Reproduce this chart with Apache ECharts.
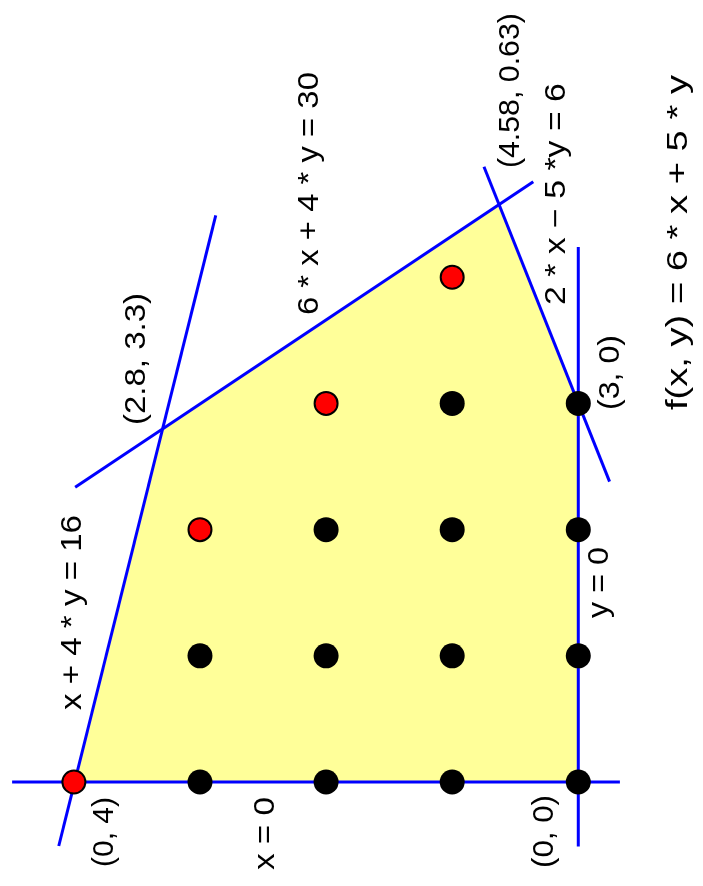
<!DOCTYPE html>
<html>
<head>
<meta charset="utf-8">
<script src="https://cdn.jsdelivr.net/npm/echarts@6/dist/echarts.min.js"></script>
<style>
html, body { margin: 0; padding: 0; background: #fff; }
#chart { width: 703px; height: 886px; }
</style>
</head>
<body>
<div id="chart"></div>
<script>
// problem coordinates: x goes up the page, y goes to the left
// feasible region corners
var regionX = [0, 3, 4.58, 2.8, 0];
var regionY = [0, 0, 0.63, 3.3, 4];

// constraint lines, two end points each
var lineX = [[0, 0], [-0.51, 4.24], [-0.507, 4.49], [2.335, 4.757], [2.38, 4.876]];
var lineY = [[4.49, -0.33], [0, 0], [4.12, 2.875], [3.99, 0.357], [-0.248, 0.748]];

// integer points inside the region
var blackX = [0, 0, 0, 0, 1, 1, 1, 1, 2, 2, 2, 3, 3];
var blackY = [0, 1, 2, 3, 0, 1, 2, 3, 0, 1, 2, 0, 1];
// best points (red)
var redX = [0, 2, 3, 4];
var redY = [4, 3, 2, 1];

// text labels (anchored at problem coords)
var labelText = ['x + 4 * y = 16', '(0, 4)', 'x = 0', '(0, 0)', 'y = 0', '(3, 0)',
  '2 * x \u2212 5 *y = 6', '(4.58, 0.63)', '6 * x + 4 * y = 30', '(2.8, 3.3)',
  'f(x, y) = 6 * x + 5 * y'];
var labelX = [1.343, -0.396, -0.408, -0.392, 1.581, 3.245, 4.659, 5.479, 4.663, 3.352, 4.275];
var labelY = [4.005, 3.755, 2.473, 0.264, -0.172, -0.263, 0.171, 0.534, 2.131, 3.502, -0.799];
var labelLen = [195, 70, 73, 73, 71, 75, 222, 155, 243, 132, 335];

function pts(xs, ys) {
  // chart x axis carries problem y, chart y axis carries problem x
  return xs.map(function (x, i) { return [ys[i], x]; });
}

var chart = echarts.init(document.getElementById('chart'));
var FONT = '29px "Liberation Sans", Arial, sans-serif';

var lineSeries = lineX.map(function (xs, i) {
  return {
    type: 'line',
    data: pts(xs, lineY[i]),
    symbol: 'none',
    silent: true,
    lineStyle: { color: '#0000ff', width: 3 },
    z: 3
  };
});

chart.setOption({
  animation: false,
  grid: { left: 0, right: 0, top: 0, bottom: 0 },
  xAxis: { type: 'value', inverse: true, min: -0.989, max: 4.586, show: false },
  yAxis: { type: 'value', min: -0.824, max: 6.197, show: false },
  series: [{
    type: 'custom',
    data: pts(regionX, regionY),
    z: 1,
    renderItem: function (params, api) {
      if (params.dataIndex !== 0) return;
      var poly = pts(regionX, regionY).map(function (p) { return api.coord(p); });
      return { type: 'polygon', shape: { points: poly }, style: { fill: '#ffff99' } };
    }
  }].concat(lineSeries).concat([{
    type: 'scatter',
    data: pts(blackX, blackY),
    symbolSize: 25,
    itemStyle: { color: '#000', opacity: 1 },
    z: 5
  }, {
    type: 'scatter',
    data: pts(redX, redY),
    symbolSize: 23,
    itemStyle: { color: '#ff0000', borderColor: '#000', borderWidth: 2, opacity: 1 },
    z: 5
  }])
});

// rotated labels, stretched along the text to match the reference lengths
var ctx = document.createElement('canvas').getContext('2d');
ctx.font = FONT;
var texts = labelText.map(function (t, i) {
  var p = chart.convertToPixel({ gridIndex: 0 }, [labelY[i], labelX[i]]);
  var w = ctx.measureText(t).width;
  return {
    type: 'text',
    x: p[0],
    y: p[1],
    rotation: Math.PI / 2,
    scaleX: labelLen[i] / w,
    z: 10,
    style: { text: t, font: FONT, fill: '#000', align: 'center', verticalAlign: 'middle' }
  };
});
chart.setOption({ graphic: texts });
</script>
</body>
</html>
